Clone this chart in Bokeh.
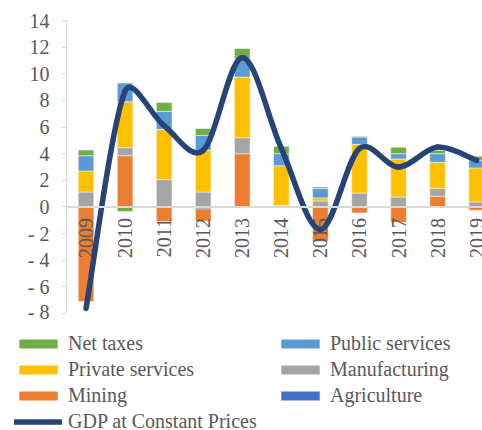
import numpy as np
from bokeh.plotting import figure
from bokeh.layouts import column
from bokeh.models import Range1d, FixedTicker, Span, Legend, LegendItem, ColumnDataSource
from bokeh.embed import file_html
from bokeh.resources import INLINE
from bokeh.core.properties import value

# ---------------- data ----------------
years = ["2009", "2010", "2011", "2012", "2013", "2014", "2015", "2016", "2017", "2018", "2019"]
agriculture = [0.0, 0.0, 0.0, -0.15, 0.0, 0.0, 0.0, 0.0, 0.0, 0.0, 0.0]
mining = [-7.1, 3.85, -1.1, -0.9, 4.0, 0.0, -2.6, -0.45, -1.15, 0.8, -0.25]
manufacturing = [1.12, 0.6, 2.05, 1.12, 1.2, 0.1, 0.45, 1.05, 0.75, 0.6, 0.38]
private_services = [1.58, 3.45, 3.78, 3.15, 4.55, 3.0, 0.23, 3.65, 2.85, 1.95, 2.55]
public_services = [1.15, 1.4, 1.35, 1.1, 1.35, 0.9, 0.7, 0.55, 0.4, 0.65, 0.57]
net_taxes = [0.43, -0.35, 0.67, 0.52, 0.8, 0.55, 0.12, 0.05, 0.48, 0.25, 0.3]
gdp = [-7.6, 8.7, 6.1, 4.25, 11.2, 4.4, -1.7, 4.4, 3.0, 4.5, 3.5]

y_ticks = [-8, -6, -4, -2, 0, 2, 4, 6, 8, 10, 12, 14]
y_tick_labels = ["- 8", "- 6", "- 4", "- 2", "0", "2", "4", "6", "8", "10", "12", "14"]

series = [
    ("Agriculture", agriculture, "#4472c4"),
    ("Mining", mining, "#ed7d31"),
    ("Manufacturing", manufacturing, "#a5a5a5"),
    ("Private services", private_services, "#ffc000"),
    ("Public services", public_services, "#5b9bd5"),
    ("Net taxes", net_taxes, "#70ad47"),
]
colors = {name: col for name, _, col in series}
LINE_COLOR = "#264478"

FONT = "Liberation Serif"
TXT = "#595959"
AXC = "#d9d9d9"

n = len(years)
xs = np.arange(n, dtype=float)

p = figure(width=482, height=322, output_backend="svg", toolbar_location=None,
           x_range=Range1d(-0.5, 10.15), y_range=Range1d(-8, 14),
           x_axis_location=None, min_border_left=66, min_border_right=0,
           min_border_top=20, min_border_bottom=9)
p.outline_line_color = None
p.grid.visible = False
p.frame_align = False

ax = p.yaxis[0]
ax.ticker = FixedTicker(ticks=y_ticks)
ax.major_label_overrides = {t: l for t, l in zip(y_ticks, y_tick_labels)}
ax.minor_tick_line_color = None
ax.major_tick_in = 0
ax.major_tick_out = 5
ax.major_tick_line_color = AXC
ax.axis_line_color = AXC
ax.axis_line_width = 1
ax.major_label_text_font = FONT
ax.major_label_text_font_size = "20px"
ax.major_label_text_color = TXT
ax.major_label_standoff = 12

# stacked bars (positives and negatives stacked separately)
pos = np.zeros(n)
neg = np.zeros(n)
for name, vals, col in series:
    v = np.array(vals, dtype=float)
    bottom = np.where(v >= 0, pos, neg)
    top = bottom + v
    pos = np.where(v >= 0, top, pos)
    neg = np.where(v < 0, top, neg)
    src = ColumnDataSource(dict(x=xs, bottom=bottom, top=top))
    p.vbar(x="x", bottom="bottom", top="top", width=0.4, source=src,
           fill_color=col, line_color="white", line_width=0.5)

p.add_layout(Span(location=0, dimension="width", line_color=AXC, line_width=2))

# category labels at the zero line
p.text(x=xs, y=np.zeros(n), text=years, angle=np.pi / 2, text_align="right",
       text_baseline="middle", y_offset=11, text_font=value(FONT),
       text_font_size="20px", text_color=TXT)

# smoothed GDP line (Bezier segments with clamped Catmull-Rom tangents)
sx, sy = 416 / 10.65, 293 / 22.0
P = np.column_stack([xs * sx, np.array(gdp) * sy])
x0s, y0s, x1s, y1s, c0x, c0y, c1x, c1y = ([] for _ in range(8))
for i in range(n - 1):
    p0 = P[i - 1] if i > 0 else P[i]
    p1, p2 = P[i], P[i + 1]
    p3 = P[i + 2] if i + 2 < n else P[i + 1]
    d12 = np.linalg.norm(p2 - p1)
    t1 = (p2 - p0) / 6.0
    t2 = (p3 - p1) / 6.0
    for t in (t1, t2):
        L = np.linalg.norm(t)
        if L > d12 * 0.35:
            t *= (d12 * 0.35) / L
    a = p1 + t1
    b = p2 - t2
    x0s.append(p1[0] / sx); y0s.append(p1[1] / sy)
    x1s.append(p2[0] / sx); y1s.append(p2[1] / sy)
    c0x.append(a[0] / sx); c0y.append(a[1] / sy)
    c1x.append(b[0] / sx); c1y.append(b[1] / sy)
p.bezier(x0=x0s, y0=y0s, x1=x1s, y1=y1s, cx0=c0x, cy0=c0y, cx1=c1x, cy1=c1y,
         line_color=LINE_COLOR, line_width=5.5, line_cap="round")

# ---------------- legend figure ----------------
lg = figure(width=482, height=108, output_backend="svg", toolbar_location=None,
            x_axis_location=None, y_axis_location=None, min_border=0,
            x_range=Range1d(0, 1), y_range=Range1d(0, 1))
lg.outline_line_color = None
lg.grid.visible = False
lg.frame_align = False

legend_order = ["Net taxes", "Public services", "Private services",
                "Manufacturing", "Mining", "Agriculture"]
items = []
for name in legend_order:
    r = lg.vbar(x=[np.nan], top=[np.nan], width=0.4, fill_color=colors[name], line_color=None)
    items.append(LegendItem(label=name, renderers=[r]))
rl = lg.line(x=[np.nan], y=[np.nan], line_color=LINE_COLOR, line_width=5.5, line_cap="round")
items.append(LegendItem(label="GDP at Constant Prices", renderers=[rl]))

legend = Legend(items=items, orientation="horizontal", ncols=2, location=(14, -4),
                glyph_width=48, glyph_height=11, label_standoff=6, label_width=208,
                label_height=26, spacing=0, padding=0, margin=0,
                label_text_font=FONT, label_text_font_size="20px", label_text_color=TXT,
                border_line_color=None, background_fill_alpha=0)
lg.add_layout(legend, "center")

layout = column(p, lg, spacing=0)
open("out.html", "w").write(file_html(layout, INLINE))
